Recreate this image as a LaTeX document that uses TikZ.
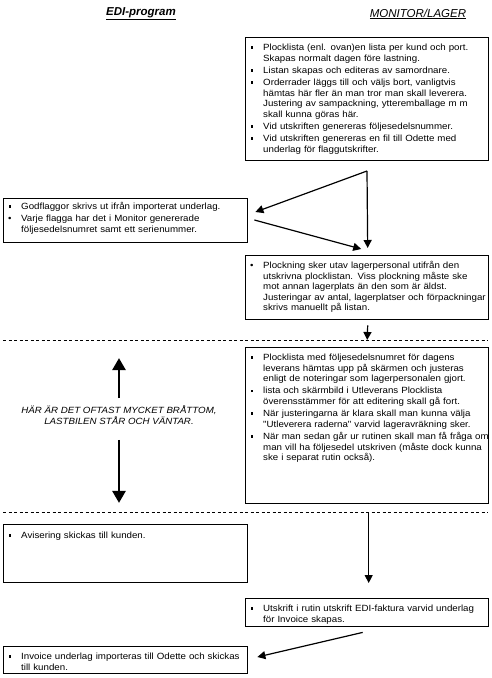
\documentclass[tikz,border=0pt]{standalone}
\usepackage{fontspec}
\setmainfont{Liberation Sans}
\newfontfamily\boxfont{Liberation Sans}[FakeStretch=1.08]
\usetikzlibrary{arrows.meta}
\newcommand{\sqbul}{\makebox[13pt][l]{\hspace{0.5pt}\raisebox{1.7pt}{\rule{2.6pt}{2.6pt}}}}
\newcommand{\rdbul}{\makebox[13pt][l]{•}}
\newcommand{\itm}[2]{\par\noindent\hangindent=13pt\hangafter=1 #1#2\par}
\newcommand{\nl}{\newline}
\begin{document}
\begin{tikzpicture}[x=1pt,y=-1pt,
  box/.style={draw, line width=1.4pt, rectangle, inner sep=0pt, anchor=north west},
  txt/.style={anchor=north west, inner sep=0pt, text width=#1,
    font=\boxfont\fontsize{9}{10.6}\selectfont\setlength{\parskip}{1.6pt}\raggedright},
  sarrow/.style={line width=1.2pt, -{Triangle[width=8pt,length=8pt]}},
  barrow/.style={line width=2.6pt, -{Triangle[width=13pt,length=12pt]}},
  dline/.style={line width=0.6pt, dash pattern=on 3pt off 2.5pt},
  ttl/.style={inner sep=0pt}
]
\useasboundingbox (0,0) rectangle (491,678);

% titles
\node[ttl, font=\fontsize{11.5}{13}\selectfont\bfseries\itshape] (h1) at (141,14) {\underline{EDI-program}};
\node[ttl, font=\fontsize{11.5}{13}\selectfont\itshape] (h2) at (418,14) {\underline{MONITOR/LAGER}};

% boxes
\node[box, minimum width=243pt, minimum height=123pt] (b1) at (245,37) {};
\node[box, minimum width=244pt, minimum height=44pt] (b2) at (3,198) {};
\node[box, minimum width=243pt, minimum height=64pt] (b3) at (245,255) {};
\node[box, minimum width=243pt, minimum height=156pt] (b4) at (245,347) {};
\node[box, minimum width=244pt, minimum height=58pt] (b5) at (3,524) {};
\node[box, minimum width=243pt, minimum height=28pt] (b6) at (245,598) {};
\node[box, minimum width=244pt, minimum height=27pt] (b7) at (3,646) {};

% texts
\node[txt=260pt] (t1) at ([shift={(5,1)}]b1.north west) {%
\itm{\sqbul}{Plocklista (enl. ovan)en lista per kund och port.\nl Skapas normalt dagen före lastning.}
\itm{\sqbul}{Listan skapas och editeras av samordnare.}
\itm{\sqbul}{Orderrader läggs till och väljs bort, vanligtvis\nl hämtas här fler än man tror man skall leverera.\nl Justering av sampackning, ytteremballage m m\nl skall kunna göras här.}
\itm{\sqbul}{Vid utskriften genereras följesedelsnummer.}
\itm{\sqbul}{Vid utskriften genereras en fil till Odette med\nl underlag för flaggutskrifter.}};

\node[txt=260pt] (t2) at ([shift={(5,-1)}]b2.north west) {%
\itm{\sqbul}{Godflaggor skrivs ut ifrån importerat underlag.}
\itm{\rdbul}{Varje flagga har det i Monitor genererade\nl följesedelsnumret samt ett serienummer.}};

\node[txt=260pt] (t3) at ([shift={(5,1)}]b3.north west) {%
\itm{\rdbul}{Plockning sker utav lagerpersonal utifrån den\nl utskrivna plocklistan. Viss plockning måste ske\nl mot annan lagerplats än den som är äldst.\nl Justeringar av antal, lagerplatser och förpackningar\nl skrivs manuellt på listan.}};

\node[txt=260pt] (t4) at ([shift={(5,1)}]b4.north west) {%
\itm{\sqbul}{Plocklista med följesedelsnumret för dagens\nl leverans hämtas upp på skärmen och justeras\nl enligt de noteringar som lagerpersonalen gjort.}
\itm{\sqbul}{lista och skärmbild i Utleverans Plocklista\nl överensstämmer för att editering skall gå fort.}
\itm{\sqbul}{När justeringarna är klara skall man kunna välja\nl "Utleverera raderna" varvid lageravräkning sker.}
\itm{\sqbul}{När man sedan går ur rutinen skall man få fråga om\nl man vill ha följesedel utskriven (måste dock kunna\nl ske i separat rutin också).}};

\node[txt=260pt] (t5) at ([shift={(5,2)}]b5.north west) {%
\itm{\sqbul}{Avisering skickas till kunden.}};

\node[txt=260pt] (t6) at ([shift={(5,1)}]b6.north west) {%
\itm{\sqbul}{Utskrift i rutin utskrift EDI-faktura varvid underlag\nl för Invoice skapas.}};

\node[txt=260pt] (t7) at ([shift={(5,1)}]b7.north west) {%
\itm{\sqbul}{Invoice underlag importeras till Odette och skickas\nl till kunden.}};

% dashed separators
\coordinate (dl1w) at (3,340);
\coordinate (dl1e) at (488,340);
\coordinate (dl2w) at (3,512);
\coordinate (dl2e) at (488,512);
\draw[dline] (dl1w) -- (dl1e);
\draw[dline] (dl2w) -- (dl2e);

% connectors
\coordinate (sp) at (367,171);
\draw[sarrow] (sp) -- ([shift={(0.5,-7)}]b3.north);
\draw[sarrow] (sp) -- ([shift={(7,14)}]b2.north east);
\draw[sarrow] ([shift={(6,22)}]b2.north east) -- ([shift={(-6,-6)}]b3.north);
\draw[sarrow] ([shift={(0.5,5)}]b3.south) -- (b3.south |- dl1e);
\draw[sarrow] ([shift={(1.5,0)}]b4.south |- dl2e) -- ([shift={(1.5,-15)}]b6.north);
\draw[sarrow] ([shift={(-4.5,5)}]b6.south) -- ([shift={(9,11)}]b7.north east);

% middle note with big arrows
\node[inner sep=0pt, align=center, font=\boxfont\itshape\fontsize{9}{11.5}\selectfont] (mid) at (119,415)
  {HÄR ÄR DET OFTAST MYCKET BRÅTTOM,\\LASTBILEN STÅR OCH VÄNTAR.};
\draw[barrow] ([shift={(0,-7)}]mid.north) -- ([shift={(0,-47)}]mid.north);
\draw[barrow] ([shift={(0,15)}]mid.south) -- ([shift={(0,78)}]mid.south);
\end{tikzpicture}
\end{document}
